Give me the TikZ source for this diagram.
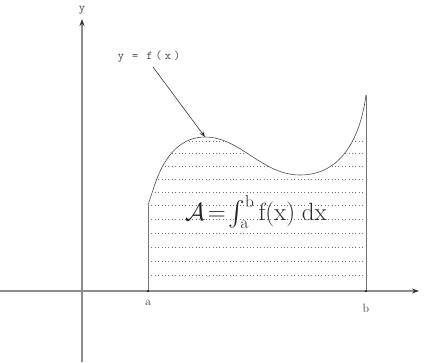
\documentclass[tikz,border=0pt]{standalone}
\usepackage{amsmath}
\usetikzlibrary{arrows.meta}
\begin{document}
\begin{tikzpicture}[x=1pt,y=-1pt,
  axis/.style={draw=black!45,line width=1.3pt,-{Stealth[length=7pt,width=5pt,black!80]}},
  curve/.style={draw=black!70,line width=0.6pt},
  fillrow/.style={draw=black!55,line width=0.8pt,dash pattern=on 0.8pt off 2.6pt},
  lbl/.style={inner sep=0pt,text=black!75}]
\useasboundingbox (0,0) rectangle (438,362);
% region
\coordinate (a) at (148,291);
\coordinate (b) at (366,291);
\coordinate (fa) at (148,205);
\coordinate (fb) at (366,95);
\begin{scope}
\clip (a) -- (fa) -- (153,190) .. controls (165,150) and (185,137) .. (205,137)
  .. controls (240,137) and (262,175) .. (300,175)
  .. controls (340,175) and (360,140) .. (fb) -- (b) -- cycle;
\foreach \yy in {141,153,166,179,192,205,219,233,247,261,275} {
  \draw[fillrow] (148,\yy) -- (366,\yy);
}
\end{scope}
\draw[fillrow,draw=black!85] (a) -- (b);
% axes
\node[lbl,font=\ttfamily\large] (ylab) at (82,10) {y};
\coordinate (ybot) at (82,362);
\coordinate (ytop) at (82,19);
\coordinate (xl) at (0,291);
\coordinate (xr) at (419,291);
\draw[axis] (ybot) -- (ytop);
\draw[axis] (xl) -- (xr);
% curve and sides
\draw[curve] (fa) -- (153,190) .. controls (165,150) and (185,137) .. (205,137)
  .. controls (240,137) and (262,175) .. (300,175)
  .. controls (340,175) and (360,140) .. (fb);
\draw[draw=black!55,line width=0.7pt] (a) -- (fa);
\draw[draw=black!55,line width=1pt] (b) -- (fb);
\fill[black] (a) circle (1pt);
\fill[black] (b) circle (1pt);
% labels
\node[lbl,font=\large] (alab) at (148,303) {$\mathrm{a}$};
\node[lbl,font=\large] (blab) at (366,308) {$\mathrm{b}$};
\node[lbl,font=\ttfamily\large] (flab) at (149,57) {y\hspace{1pt}\ \hspace{1pt}=\hspace{1pt}\ \hspace{1pt}f\hspace{3pt}(\hspace{3pt}x\hspace{3pt})};
\coordinate (peak) at (205,137);
\draw[draw=black!80,line width=0.6pt,-{Stealth[length=6pt,width=4pt]}] (153,67) -- (peak);
\node[lbl,text=black!85,font=\fontsize{24}{28}\selectfont] (area) at (256,212) {$\mathcal{A}\!=\!\int_{\mathrm{a}}^{\mathrm{b}}\mathrm{f}(\mathrm{x})\;\mathrm{dx}$};
\end{tikzpicture}
\end{document}
